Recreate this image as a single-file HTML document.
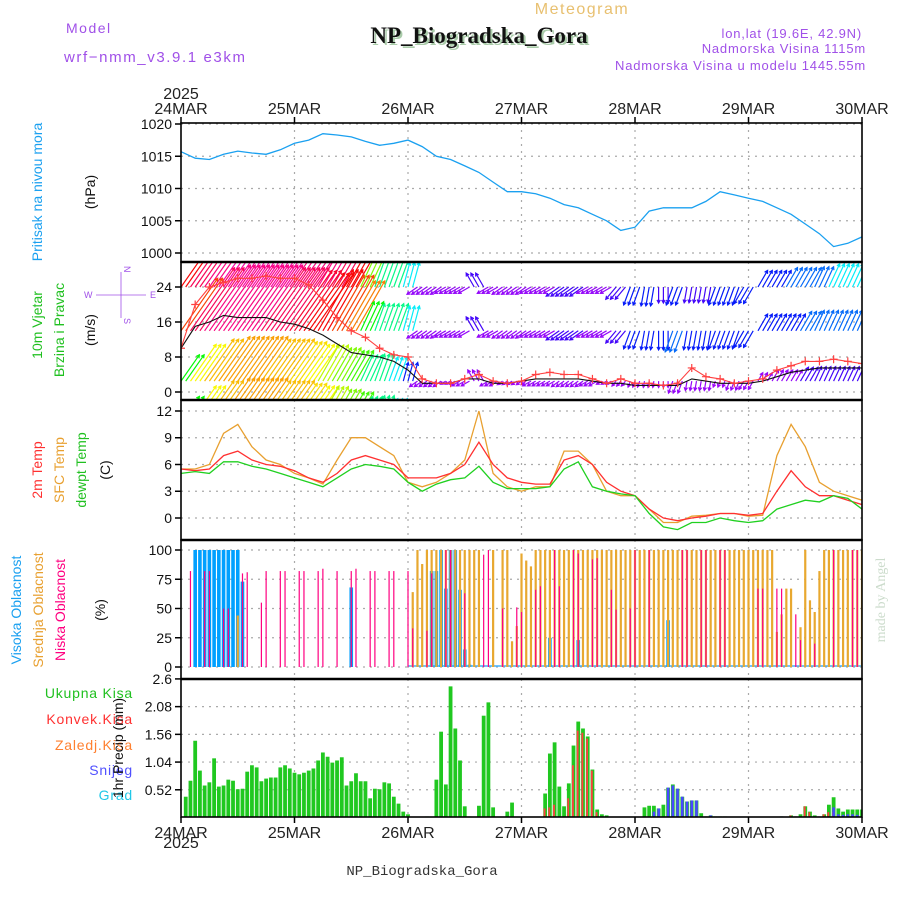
<!DOCTYPE html>
<html><head><meta charset="utf-8">
<style>
body{margin:0;background:#fff;}
svg{display:block;font-family:"Liberation Sans",sans-serif;}
</style></head>
<body>
<svg id="chart" width="900" height="900" viewBox="0 0 900 900">
<defs>
<clipPath id="cp1"><rect x="181" y="123" width="681" height="139"/></clipPath>
<clipPath id="cp2"><rect x="181" y="262" width="681" height="138"/></clipPath>
<clipPath id="cp3"><rect x="181" y="400" width="681" height="140"/></clipPath>
<clipPath id="cp4"><rect x="181" y="540" width="681" height="139"/></clipPath>
<clipPath id="cp5"><rect x="181" y="679" width="681" height="138"/></clipPath>
</defs>
<rect x="0" y="0" width="900" height="900" fill="#fff"/>
<text x="66" y="33" font-size="14" fill="#a050e8" letter-spacing="1.5">Model</text>
<text x="64" y="62" font-size="15" fill="#a050e8" letter-spacing="1.6">wrf−nmm_v3.9.1 e3km</text>
<text x="582" y="14" font-size="16" fill="#e8c070" text-anchor="middle" letter-spacing="1.5">Meteogram</text>
<text x="481" y="45" font-size="23" font-weight="bold" font-family="Liberation Serif, serif" fill="#aca" text-anchor="middle">NP_Biogradska_Gora</text>
<text x="479" y="43" font-size="23" font-weight="bold" font-family="Liberation Serif, serif" fill="#111" text-anchor="middle">NP_Biogradska_Gora</text>
<text x="862" y="38" font-size="13" fill="#a050e8" text-anchor="end" letter-spacing="0.8">lon,lat (19.6E, 42.9N)</text>
<text x="866" y="53" font-size="13" fill="#a050e8" text-anchor="end" letter-spacing="0.8">Nadmorska Visina 1115m</text>
<text x="866" y="70" font-size="13" fill="#a050e8" text-anchor="end" letter-spacing="0.8">Nadmorska Visina u modelu 1445.55m</text>
<text x="181" y="99" font-size="16" fill="#222" text-anchor="middle">2025</text>
<text x="181" y="848" font-size="16" fill="#222" text-anchor="middle">2025</text>
<text x="422" y="875" font-size="14" font-family="Liberation Mono, monospace" fill="#333" text-anchor="middle">NP_Biogradska_Gora</text>
<text transform="translate(885,600) rotate(-90)" font-size="14" font-family="Liberation Serif, serif" fill="#ccdccc" text-anchor="middle">made by Angel</text>

<text transform="translate(42,192) rotate(-90)" font-size="14" fill="#1aa0f0" text-anchor="middle">Pritisak na nivou mora</text>
<text transform="translate(95,192) rotate(-90)" font-size="14" fill="#111" text-anchor="middle">(hPa)</text>
<text transform="translate(42,325) rotate(-90)" font-size="14" fill="#20c020" text-anchor="middle">10m Vjetar</text>
<text transform="translate(64,330) rotate(-90)" font-size="14" fill="#20c020" text-anchor="middle">Brzina i Pravac</text>
<text transform="translate(95,330) rotate(-90)" font-size="14" fill="#111" text-anchor="middle">(m/s)</text>
<g fill="#a050e8" stroke="#a050e8" font-size="9">
<text x="84" y="298" stroke="none">W</text><text x="150" y="298" stroke="none">E</text>
<line x1="96" y1="295" x2="146" y2="295" stroke-width="0.8"/>
<text transform="translate(124,266) rotate(90)" stroke="none">N</text>
<text transform="translate(124,318) rotate(90)" stroke="none">S</text>
<line x1="121" y1="272" x2="121" y2="318" stroke-width="0.8"/>
</g>
<text transform="translate(42,470) rotate(-90)" font-size="14" fill="#ff3030" text-anchor="middle">2m Temp</text>
<text transform="translate(64,470) rotate(-90)" font-size="14" fill="#e8a030" text-anchor="middle">SFC Temp</text>
<text transform="translate(86,470) rotate(-90)" font-size="14" fill="#20c020" text-anchor="middle">dewpt Temp</text>
<text transform="translate(110,470) rotate(-90)" font-size="14" fill="#111" text-anchor="middle">(C)</text>
<text transform="translate(21,610) rotate(-90)" font-size="14" fill="#1aa0f0" text-anchor="middle">Visoka Oblacnost</text>
<text transform="translate(43,610) rotate(-90)" font-size="14" fill="#e8a030" text-anchor="middle">Srednja Oblacnost</text>
<text transform="translate(65,610) rotate(-90)" font-size="14" fill="#ff0080" text-anchor="middle">Niska Oblacnost</text>
<text transform="translate(105,610) rotate(-90)" font-size="14" fill="#111" text-anchor="middle">(%)</text>
<text x="133" y="698" font-size="14" fill="#20c020" text-anchor="end" letter-spacing="0.8">Ukupna Kisa</text>
<text x="133" y="724" font-size="14" fill="#ff3030" text-anchor="end" letter-spacing="0.8">Konvek.Kisa</text>
<text x="133" y="750" font-size="14" fill="#ff8030" text-anchor="end" letter-spacing="0.8">Zaledj.Kisa</text>
<text x="133" y="775" font-size="14" fill="#5050ff" text-anchor="end" letter-spacing="0.8">Snijeg</text>
<text x="133" y="800" font-size="14" fill="#20c8e8" text-anchor="end" letter-spacing="0.8">Grad</text>
<text transform="translate(123,748) rotate(-90)" font-size="14" fill="#111" text-anchor="middle">1hr Precip (mm)</text>
<g id="layer"></g>
</svg>
<script>
const dayLabels = ["24MAR","25MAR","26MAR","27MAR","28MAR","29MAR","30MAR"];
const pressTicks = [1000,1005,1010,1015,1020];
const windTicks = [0,8,16,24];
const tempTicks = [0,3,6,9,12];
const cloudTicks = [0,25,50,75,100];
const precipTicks = [0.52,1.04,1.56,2.08,2.6];
// 3-hourly series (t = 0,3,...,144 h)
const pressure = [1015.7,1014.7,1014.5,1015.3,1015.8,1015.5,1015.3,1016,1017,1017.5,1018.5,1018.3,1018,1017.3,1016.7,1017,1017.5,1016.5,1015,1014.5,1013.5,1012.5,1011,1009.5,1009.5,1009.2,1008.5,1007.5,1007,1006,1005,1003.5,1004,1006.5,1007,1007,1007,1008,1009.5,1009,1008.5,1008,1007,1006,1004.5,1003,1001,1001.5,1002.5];
const temp2m = [5.5,5.3,5.5,7,7.5,6.5,6,5.8,5.3,4.5,4,5,6.5,7,6.5,6,4.5,4.5,4.5,5,6,8.5,6,4.5,4,3.8,3.8,6.5,7,6,4,3,2.5,1,0,-0.3,0,0.2,0.5,0.5,0.3,0.5,3,5.3,3.5,2.5,2.5,2,1.5];
const tempSfc = [5.5,5.5,6,9.5,10.5,8,6.5,6,5,4.5,3.8,6.5,9,9,8,7,4,3.5,4,5,6.5,12,5,3.5,3,3.5,3.5,7.5,7.5,6,3,2.5,2.5,1,-0.5,-0.5,0.2,0.3,0.5,0.5,0.2,0.3,7,10.5,8,4,3,2.5,2];
const tempDew = [5,5.2,5,6.3,6.3,5.8,5.5,5,4.5,4,3.5,4.5,5.5,6,5.8,5.5,4,3,3.8,4.3,4.5,5.8,4,3.3,3.3,3.3,3.5,5.5,6.3,3.5,3,2.7,2.5,0.5,-1,-1.3,-0.5,-0.5,0,-0.3,-0.5,-0.3,1,1.5,2,1.8,2.5,2.2,1];
const windGust = [10,20,24,25,26,26,26.5,26,26,24.5,21,17,14,12.5,10,8.5,8,3,2,2,3,4,2.5,2,2.5,4,4.5,4,4,3,2,3,2,2,1.5,2,5.5,3.5,3,2,2.5,3,5,6,7,7,7.5,7,6.5];
const windSpeed = [10,15,16,17.5,17,17,17,16,15.5,14.5,13,11,9,8.5,8,7,5,2,2,2,3,3,2,2,2.5,3,3,3,3,2.5,2,2,1.5,1.5,1.5,1.5,3,2.5,2,2,2,2.5,3.5,4.5,5,5.5,5.5,5.5,5.5];
const spdTop = [22,24,25,26,26,26,26,26,25,25,25,24,22,12,9,9,8,4,4,4,4,5,4,4,4,4,4,5,5,4,4,5,6,6,5,6,5,5,6,6,6,6,6,7,7,7,8,8,8];
const spdMid = [20,24,25,25,25,25,24,24,23,22,22,20,18,10,9,9,8,4,4,4,4,5,4,4,4,4,4,5,5,4,4,5,6,6,6,7,6,6,6,6,6,6,6,6,7,7,7,7,7];
const spdBot = [10,14,16,17,17,17,16,16,15,14,13,12,11,9,9,8,6,3,3,2,3,4,3,2,2,3,3,3,3,3,2,2,2,2,2,4,3,3,2,3,3,3,4,4,5,5,5,5,5];
const windDir = [35,35,35,35,35,35,35,35,35,35,30,30,30,25,20,20,15,235,235,240,240,330,240,235,235,240,240,235,235,240,240,220,200,190,180,200,190,190,200,200,210,30,30,30,30,25,25,25,25];
const windRows = [24,14,2.5,-7];
// hourly series (h = 0..144)
const cloudHigh = [0,0,0,100,100,100,100,100,100,100,100,100,100,73,0,0,0,0,0,0,0,0,0,0,
0,0,0,0,0,0,0,0,0,0,0,0,68,0,0,0,0,0,0,0,0,0,0,0,
0,0,0,0,0,82,82,100,67,100,100,66,15,2,0,0,0,0,0,0,0,0,0,0,
0,0,0,0,0,0,25,0,0,0,0,0,23,0,0,0,0,0,0,0,0,0,0,0,
0,0,0,0,0,0,0,40,0,0,0,0,0,0,0,0,0,0,0,0,0,0,0,0,
0,0,0,0,0,0,0,0,0,0,0,0,0,0,0,0,0,0,0,0,0,0,0,0,0];
const cloudMid = [0,0,0,0,0,0,0,0,0,0,0,0,44,0,0,0,0,0,0,0,0,0,0,0,
0,0,0,0,0,0,0,0,0,0,0,0,0,0,0,0,0,0,0,0,0,0,0,0,
0,64,100,88,100,100,100,100,100,100,100,100,100,100,100,100,0,0,100,0,100,100,22,35,
97,91,86,100,100,100,100,100,100,100,100,100,100,100,100,100,100,100,100,100,100,100,100,100,
100,100,100,100,100,100,100,100,100,100,100,100,100,100,100,100,100,100,100,100,100,100,100,100,
100,100,100,100,100,100,30,45,67,67,0,34,100,57,47,82,100,100,100,100,100,100,100,100,100];
const cloudLow = [0,0,82,0,0,82,82,0,0,50,50,0,0,80,81,0,0,55,82,0,0,82,82,0,
0,82,82,0,0,82,84,0,0,82,0,0,82,84,0,0,82,82,0,0,82,82,0,0,
82,33,0,0,31,80,0,0,100,100,0,0,63,0,0,0,96,100,0,0,50,0,0,51,
47,0,0,66,69,0,0,100,69,0,0,100,97,0,0,92,93,0,0,66,49,0,0,50,
100,0,0,100,0,0,0,0,0,0,100,100,0,0,100,100,0,0,100,100,0,0,0,0,
0,0,67,67,0,0,67,67,0,0,45,23,0,0,20,0,0,0,100,0,0,0,100,100,0];
const precipTotal = [0,0.39,0.69,1.44,0.88,0.6,0.66,1.11,0.58,0.6,0.71,0.69,0.53,0.54,0.86,0.98,0.94,0.68,0.73,0.75,0.75,0.94,0.98,0.92,
0.84,0.81,0.84,0.88,0.92,1.07,1.22,1.14,1.03,1.07,1.13,0.6,0.68,0.83,0.68,0.68,0.36,0.54,0.53,0.66,0.64,0.39,0.26,0.11,
0.06,0.01,0,0,0.02,0,0.71,1.61,0.62,2.46,1.67,1.07,0.21,0.02,0,0.22,1.91,2.16,0.19,0,0,0.11,0.28,0,
0,0,0,0,0,0.45,1.2,1.41,0.58,0.21,0.64,1.35,1.8,1.67,1.52,0.9,0.15,0.06,0.04,0,0,0,0,0,
0,0,0.19,0.22,0.22,0.17,0.24,0.56,0.62,0.54,0.39,0.3,0.32,0.32,0.08,0.02,0.04,0.02,0.02,0.02,0,0,0,0,
0,0,0,0,0,0,0,0.02,0,0.04,0.02,0.06,0.21,0.11,0.04,0.02,0.06,0.24,0.38,0.17,0.11,0.15,0.15,0.15,0.15];
const precipConv = [0,0,0,0,0,0,0,0,0,0,0,0,0,0,0,0,0,0,0,0,0,0,0,0,
0,0,0,0,0,0,0,0,0,0,0,0,0,0,0,0,0,0,0,0,0,0,0,0,
0,0,0,0,0,0,0,0,0,0,0,0,0,0,0,0,0,0,0,0,0,0,0,0,
0,0,0,0,0,0.17,0.19,0.24,0,0,0.36,0.98,1.63,1.59,1.48,0.88,0.1,0,0,0,0,0,0,0,
0,0,0,0,0,0,0,0,0,0,0,0,0,0,0,0,0,0,0,0,0,0,0,0,
0,0,0,0,0,0,0,0,0,0.04,0.02,0,0.21,0.1,0,0.02,0.06,0.1,0.1,0,0,0,0,0,0];
const precipSnow = [0,0,0,0,0,0,0,0,0,0,0,0,0,0,0,0,0,0,0,0,0,0,0,0,
0,0,0,0,0,0,0,0,0,0,0,0,0,0,0,0,0,0,0,0,0,0,0,0,
0,0,0,0,0,0,0,0,0,0,0,0,0,0,0,0,0,0,0,0,0,0,0,0,
0,0,0,0,0,0,0,0,0,0,0,0,0,0,0,0,0,0,0,0,0,0,0,0,
0,0,0,0,0.11,0.17,0,0.56,0.6,0.54,0.39,0.3,0.32,0.32,0,0.02,0.04,0,0,0,0,0,0,0,
0,0,0,0,0,0,0,0.02,0,0,0,0,0,0,0,0,0,0,0.19,0.06,0.05,0.06,0.06,0.05,0];

const NS = "http://www.w3.org/2000/svg";
const layer = document.getElementById("layer");
function mk(tag, attrs, parent) {
  const el = document.createElementNS(NS, tag);
  for (const k in attrs) el.setAttribute(k, attrs[k]);
  (parent || layer).appendChild(el);
  return el;
}
const X0 = 181, X1 = 862;
function X(h) { return X0 + h * (X1 - X0) / 144; }
function yP(v) { return 253 - (v - 1000) * 6.45; }
function yW(v) { return 392 - v * 4.375; }
function yT(v) { return 518 - v * 8.917; }
function yC(v) { return 667 - v * 1.17; }
function yR(v) { return 817.5 - v * 53.3; }
const panels = [[123,262],[262,400],[400,540],[540,679],[679,817]];

const grid = mk("g", {stroke:"#aaa","stroke-width":1.2,"stroke-dasharray":"2,5"});


panels.forEach(p => {
  for (let d = 1; d < 6; d++) {
    const l = mk("line", {x1:X(d*24), x2:X(d*24), y1:p[0], y2:p[1]}, grid);
    
    
  }
});
function hgrid(ticks, yf, fmt, name) {
  const g = mk("g", {});
  
  
  ticks.forEach(t => {
    const y = yf(t);
    const l = mk("line", {x1:X0, x2:X1, y1:y, y2:y, stroke:"#aaa","stroke-width":1.2,"stroke-dasharray":"2,5"}, g);
    
    
    const tk = mk("line", {x1:X0-6, x2:X0, y1:y, y2:y, stroke:"#000","stroke-width":1.5}, g);
    
    
    const tx = mk("text", {x:X0-9, y:y+5, "font-size":14, "text-anchor":"end", fill:"#111"}, g);
    
    
    tx.textContent = fmt(t);
  });
}
hgrid(pressTicks, yP, t => t, 'pressure-y-axis');
hgrid(windTicks, yW, t => t, 'wind-y-axis');
hgrid(tempTicks, yT, t => t, 'temp-y-axis');
hgrid(cloudTicks, yC, t => t, 'cloud-y-axis');
hgrid(precipTicks, yR, t => t, 'precip-y-axis');

function polyline(arr, yf, color, clip, name, w) {
  const pts = arr.map((v, i) => X(i*3).toFixed(1) + "," + yf(v).toFixed(1)).join(" ");
  const el = mk("polyline", {points:pts, fill:"none", stroke:color, "stroke-width":w||1.3, "clip-path":"url(#"+clip+")"});
  
  
  return el;
}
polyline(pressure, yP, "#1aa0f0", "cp1", "pressure-line");

function hueFor(s) {
  const stops = [[0,280],[4,275],[7,215],[10,120],[14,60],[18,30],[22,0],[26,-40]];
  for (let i = 1; i < stops.length; i++) {
    if (s <= stops[i][0]) {
      const a = stops[i-1], b = stops[i], f = (s - a[0]) / (b[0] - a[0]);
      return a[1] + f * (b[1] - a[1]);
    }
  }
  return -40;
}
const wg = mk("g", {"clip-path":"url(#cp2)", "stroke-width":1.2, fill:"none"});


const rowSpeeds = [spdTop, spdMid, spdBot, spdBot];
windRows.forEach((lev, r) => {
  const by = yW(lev);
  for (let h = 0; h <= 144; h++) {
    const i = Math.round(h / 3);
    const s = rowSpeeds[r][i];
    const a = windDir[i] * Math.PI / 180;
    const len = s * 3.2;
    const x1 = X(h), x2 = x1 + Math.sin(a) * len, y2 = by - Math.cos(a) * len;
    let hue = hueFor(s); if (hue < 0) hue += 360;
    const col = "hsl(" + hue.toFixed(0) + ",95%,50%)";
    const ln = mk("path", {d:"M"+x1.toFixed(1)+","+by.toFixed(1)+"L"+x2.toFixed(1)+","+y2.toFixed(1)+
      "M"+(x2 - Math.sin(a-0.5)*3.5).toFixed(1)+","+(y2 + Math.cos(a-0.5)*3.5).toFixed(1)+"L"+x2.toFixed(1)+","+y2.toFixed(1)+
      "L"+(x2 - Math.sin(a+0.5)*3.5).toFixed(1)+","+(y2 + Math.cos(a+0.5)*3.5).toFixed(1), stroke:col}, wg);
    
    
  }
});
polyline(windSpeed, yW, "#111", "cp2", "wind-speed-line", 1.1);
polyline(windGust, yW, "#ff4040", "cp2", "wind-gust-line", 1.1);
const gm = mk("g", {stroke:"#ff4040","stroke-width":1.2,"clip-path":"url(#cp2)"});


windGust.forEach((v, i) => {
  const x = X(i*3), y = yW(v);
  const m = mk("path", {d:"M"+(x-4)+","+y+"h8M"+x+","+(y-4)+"v8"}, gm);
  
  
});

polyline(tempSfc, yT, "#e8a030", "cp3", "sfc-temp-line");
polyline(temp2m, yT, "#ff3030", "cp3", "temp-2m-line");
polyline(tempDew, yT, "#20d020", "cp3", "dewpoint-line");

const cg = mk("g", {"clip-path":"url(#cp4)"});


const base = mk("line", {x1:X(48), x2:X1, y1:666, y2:666, stroke:"#40b0ff","stroke-width":1.5}, cg);


function cloudBars(arr, w, color, name) {
  arr.forEach((v, h) => {
    if (v <= 0) return;
    const r = mk("rect", {x:X(h)-w/2, y:yC(v), width:w, height:yC(0)-yC(v), fill:color}, cg);
    
    
  });
}
cloudBars(cloudHigh, 3.6, "#00a0ff", "high-cloud-bar");
cloudBars(cloudMid, 2.2, "#e8a830", "mid-cloud-bar");
cloudBars(cloudLow, 1.2, "#ff0080", "low-cloud-bar");

const pg = mk("g", {"clip-path":"url(#cp5)"});


function precipBars(arr, w, off, color, name) {
  arr.forEach((v, h) => {
    if (v <= 0) return;
    const r = mk("rect", {x:X(h)-w/2+off, y:yR(v), width:w, height:yR(0)-yR(v), fill:color}, pg);
    
    
  });
}
precipBars(precipTotal, 3.8, 0, "#20c820", "total-precip-bar");
precipBars(precipConv, 1.8, -0.6, "#ff4040", "convective-precip-bar");
precipBars(precipSnow, 2.6, 0, "#4848ff", "snow-bar");

const fr = mk("g", {stroke:"#000", fill:"none"});


panels.forEach(p => {
  const r = mk("rect", {x:X0, y:p[0], width:X1-X0, height:p[1]-p[0], "stroke-width":1.6}, fr);
  
  
});
[262,400,540,679].forEach(y => {
  const l = mk("line", {x1:X0, x2:X1, y1:y, y2:y, "stroke-width":2.4}, fr);
  
  
});
dayLabels.forEach((d, i) => {
  const x = X(i*24);
  const t1 = mk("text", {x:x, y:114, "font-size":16, "text-anchor":"middle", fill:"#222"});
  
  
  t1.textContent = d;
  const t2 = mk("text", {x:x, y:838, "font-size":16, "text-anchor":"middle", fill:"#222"});
  
  
  t2.textContent = d;
  const k1 = mk("line", {x1:x, x2:x, y1:117, y2:123, stroke:"#000", "stroke-width":1.5});
  
  
  const k2 = mk("line", {x1:x, x2:x, y1:817, y2:823, stroke:"#000", "stroke-width":1.5});
  
  
});
</script>
</body></html>
